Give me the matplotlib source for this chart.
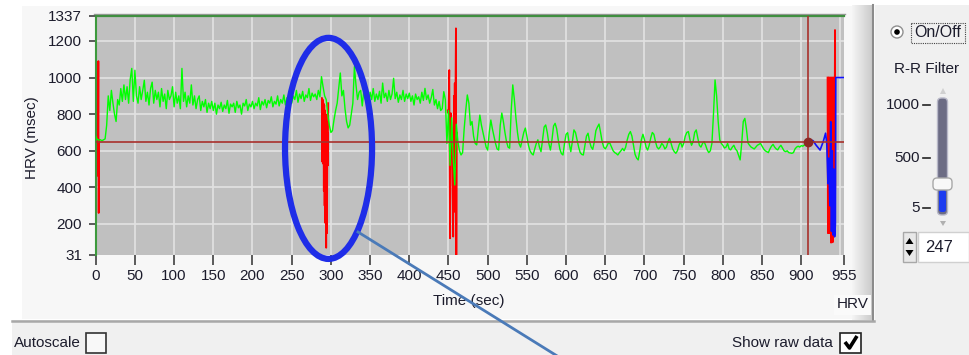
"""
HRV panel screenshot: R-R interval trace with raw-data bursts and filter controls.
"""

import numpy as np
import matplotlib.pyplot as plt
from matplotlib.patches import Rectangle, Ellipse, Circle, FancyBboxPatch, Polygon
from matplotlib.lines import Line2D

plt.rcParams['font.family'] = ['Liberation Sans', 'DejaVu Sans']

# --- data -----------------------------------------------------------------
x_ticks = [0, 50, 100, 150, 200, 250, 300, 350, 400, 450, 500, 550, 600,
           650, 700, 750, 800, 850, 900, 955]
x_grid = [50, 100, 150, 200, 250, 300, 350, 400, 450, 500, 550, 600,
          650, 700, 750, 800, 850, 900, 950]
y_ticks = [31, 200, 400, 600, 800, 1000, 1200, 1337]
y_grid = [200, 400, 600, 800, 1000, 1200]

# filtered HRV (msec), one value every 2 s from t=0 to t=908
green_dt = 2.0
green_v = (
    [680, 662, 658, 660, 655, 660, 665, 740, 900, 820, 930, 860, 800, 760, 880, 850, 940, 870, 960, 880] +
    [950, 860, 990, 1050, 870, 1040, 900, 860, 950, 880, 930, 985, 870, 920, 850, 940, 975, 860, 930, 880] +
    [920, 840, 940, 870, 910, 830, 930, 880, 900, 950, 840, 920, 860, 900, 830, 1050, 870, 920, 840, 900] +
    [860, 960, 850, 900, 830, 880, 900, 820, 870, 840, 880, 810, 860, 830, 870, 820, 860, 800, 850, 830] +
    [865, 815, 850, 830, 875, 805, 855, 840, 860, 810, 870, 835, 850, 800, 860, 845, 880, 820, 855, 840] +
    [870, 830, 860, 845, 890, 825, 870, 850, 880, 835, 875, 860, 895, 840, 870, 855, 900, 845, 880, 860] +
    [905, 850, 890, 870, 920, 860, 900, 880, 930, 865, 910, 885, 925, 870, 905, 890, 940, 875, 915, 895] +
    [910, 880, 930, 895, 1005, 950, 900, 880, 800, 740, 700, 710, 770, 820, 860, 940, 1025, 900, 930, 830] +
    [760, 725, 740, 800, 860, 1060, 960, 880, 920, 930, 845, 930, 880, 910, 860, 920, 880, 940, 870, 910] +
    [880, 925, 860, 970, 890, 915, 870, 930, 880, 910, 996, 885, 920, 865, 905, 880, 930, 870, 910, 885] +
    [915, 870, 900, 850, 910, 880, 895, 860, 920, 875, 941, 880, 905, 860, 890, 935, 850, 880, 830, 870] +
    [820, 830, 923, 880, 640, 820, 520, 780, 560, 413, 745, 650, 600, 577, 590, 720, 820, 905, 860, 740] +
    [760, 680, 640, 632, 720, 795, 740, 700, 660, 620, 604, 700, 768, 720, 680, 640, 610, 604, 740, 806] +
    [760, 700, 650, 620, 614, 820, 960, 880, 780, 700, 640, 620, 660, 700, 724, 680, 630, 600, 585, 577] +
    [610, 640, 660, 620, 595, 660, 730, 741, 700, 640, 604, 660, 735, 750, 720, 660, 610, 585, 577, 640] +
    [690, 699, 640, 595, 650, 714, 700, 660, 620, 590, 580, 577, 630, 680, 696, 650, 620, 608, 650, 710] +
    [730, 746, 700, 650, 620, 610, 625, 644, 640, 620, 600, 590, 585, 577, 590, 600, 613, 600, 620, 660] +
    [690, 705, 680, 630, 580, 560, 550, 600, 660, 690, 660, 620, 604, 630, 670, 700, 690, 650, 620, 610] +
    [620, 640, 630, 610, 620, 650, 668, 640, 610, 595, 586, 600, 630, 650, 620, 640, 680, 700, 705, 660] +
    [630, 650, 700, 714, 670, 630, 620, 640, 650, 630, 605, 590, 600, 640, 800, 987, 900, 760, 660, 640] +
    [630, 615, 620, 640, 610, 605, 620, 630, 610, 600, 575, 550, 640, 760, 777, 720, 643, 630, 620, 615] +
    [610, 620, 630, 635, 640, 625, 610, 600, 595, 590, 610, 625, 635, 620, 610, 605, 620, 630, 615, 600] +
    [595, 600, 590, 588, 586, 590, 610, 620, 625, 620, 628, 625, 632, 630, 650]
)

# live trace after the cursor (blue)
blue_t = [908, 911, 915, 919, 924, 928, 931, 932.5, 934, 935, 936.5, 937.5,
          938.5, 939.5, 940.5, 941.5, 942.5, 943.5, 944, 955]
blue_v = [650, 660, 655, 630, 604, 650, 696, 640, 420, 560, 300, 759,
          160, 600, 140, 500, 130, 200, 1000, 1000]

# raw-data bursts (red), where raw R-R differs from the filtered trace
raw_a_t = [0.6, 1.0, 1.4, 1.8, 2.2, 2.6, 3.0, 3.4, 3.8, 4.2, 4.6]
raw_a_v = [660, 460, 670, 480, 650, 470, 660, 1090, 260, 650, 660]
raw_b_t = [288.5, 289, 289.5, 290, 290.5, 291, 291.5, 292, 292.5, 293,
           293.5, 294, 294.5, 295, 295.5, 296, 296.5]
raw_b_v = [888, 540, 880, 530, 860, 380, 850, 300, 820, 205, 800, 70,
           760, 150, 700, 520, 860]
raw_c_t = [449, 450, 451, 452, 453, 454, 455, 456, 457, 457.5, 458, 458.5,
           459, 459.5, 460, 460.5, 461]
raw_c_v = [820, 805, 1041, 122, 805, 700, 560, 131, 900, 267, 969, 300,
           960, 1269, 31, 700, 650]
raw_d_t = [933.5, 934, 934.5, 935, 935.5, 936, 936.5, 937, 937.5, 938, 938.5,
           939, 939.5, 940, 940.5, 941, 941.5, 942, 942.5, 943, 943.3]
raw_d_v = [1000, 150, 1000, 160, 1000, 150, 1000, 200, 1000, 98, 1000,
           110, 1000, 100, 1000, 130, 1000, 180, 700, 1260, 400]

threshold = 650
cursor_t = 909

# --- figure and panel chrome (pixel coordinates) ----------------------------
W, H = 969, 355
fig = plt.figure(figsize=(W / 100, H / 100), dpi=100)
fig.patch.set_facecolor('white')

ui = fig.add_axes([0, 0, 1, 1])
ui.set_xlim(0, W)
ui.set_ylim(H, 0)
ui.axis('off')

txt = '#1c1c2c'

# chart panel, divider, right panel, bottom strip
ui.add_patch(Rectangle((22, 6), 830, 313, fc='#f7f7f7', ec='none'))
grad = np.linspace(0, 1, 40)
shade = np.stack([0.96 - 0.17 * grad] * 3, axis=-1)[None, :, :]
ui.imshow(shade, extent=[852, 873, 320, 5], aspect='auto', zorder=1)
ui.plot([873.5, 873.5], [5, 321], color='#8c8c8c', lw=1.5, zorder=2)
ui.add_patch(Rectangle((875, 5), 94, 350, fc='#f0f0f0', ec='none'))
ui.add_patch(Rectangle((12, 320), 863, 35, fc='#f0f0f0', ec='none'))
ui.plot([12, 874], [320.5, 320.5], color='#a8a8a8', lw=1.8, zorder=2)
ui.plot([94, 845], [13.8, 13.8], color='#9a9a9a', lw=1)

# axis titles
ui.text(32, 138, 'HRV (msec)', rotation=90, ha='center', va='center',
        fontsize=11, color=txt)
ui.text(469, 301, 'Time (sec)', ha='center', va='center', fontsize=11, color=txt)
ui.add_patch(Rectangle((834, 295), 37, 20, fc='#fafafa', ec='none', zorder=2))
ui.text(853, 304, 'HRV', ha='center', va='center', fontsize=11, color=txt, zorder=3)

# bottom check boxes
ui.text(14, 343, 'Autoscale', ha='left', va='center', fontsize=11, color=txt)
ui.add_patch(Rectangle((86.5, 332.5), 20, 20, fc='#f8f8f8', ec='#333333', lw=1.2))
ui.text(833, 343, 'Show raw data', ha='right', va='center', fontsize=11, color=txt)
ui.add_patch(Rectangle((840.5, 332.5), 21, 20, fc='white', ec='#222222', lw=1.2))
ui.plot([845, 849.5, 857], [342, 348, 336], color='black', lw=2.6,
        solid_capstyle='butt')

# right panel: radio, slider, numeric
ui.add_patch(Circle((897, 32), 6, fc='white', ec='#909090', lw=1))
ui.add_patch(Circle((897, 32), 2.8, fc='black', ec='none'))
ui.text(914, 32.5, 'On/Off', ha='left', va='center', fontsize=11.5, color=txt)
ui.add_patch(Rectangle((911.5, 22.5), 54, 20, fill=False, ec='#444444',
                       lw=0.8, ls=(0, (1, 1))))
ui.text(927, 69, 'R-R Filter', ha='center', va='center', fontsize=11, color=txt)

for lab, yy in [('1000', 105), ('500', 158), ('5', 208)]:
    ui.text(920, yy, lab, ha='right', va='center', fontsize=11, color=txt)
    ui.plot([923, 930], [yy, yy], color='#222222', lw=1.2)

ui.add_patch(Polygon([[940, 94], [946, 94], [943, 88]], closed=True,
                     fc='#d0d0d0', ec='none'))
ui.add_patch(FancyBboxPatch((937.5, 98), 10, 117,
                            boxstyle='round,pad=0,rounding_size=4',
                            fc='#6c6c84', ec='#b8b8c8', lw=1))
ui.add_patch(FancyBboxPatch((939, 190), 7, 22,
                            boxstyle='round,pad=0,rounding_size=2.5',
                            fc='#1d3cf0', ec='none'))
ui.add_patch(FancyBboxPatch((933, 178), 19, 12,
                            boxstyle='round,pad=0,rounding_size=4',
                            fc='#f8f8f8', ec='#a8a8a8', lw=1))
ui.add_patch(Polygon([[940, 221], [946, 221], [943, 226]], closed=True,
                     fc='#b0b0b0', ec='none'))

ui.add_patch(Rectangle((903, 232), 13, 30, fc='#e8e8e8', ec='#a8a8a8', lw=1))
ui.add_patch(Polygon([[905.5, 244], [913.5, 244], [909.5, 238]], closed=True,
                     fc='black', ec='none'))
ui.add_patch(Polygon([[905.5, 250], [913.5, 250], [909.5, 256]], closed=True,
                     fc='black', ec='none'))
ui.add_patch(Rectangle((918, 232), 51, 30, fc='white', ec='#d0d0d0', lw=1))
ui.text(925, 247.5, '247', ha='left', va='center', fontsize=12, color=txt)

# --- chart ----------------------------------------------------------------
left, right, top, bottom = 95.7, 844.4, 15.9, 254.9
ax = fig.add_axes([left / W, 1 - bottom / H, (right - left) / W, (bottom - top) / H])
ax.set_facecolor('#c0c0c0')
ax.set_xlim(0, 955)
ax.set_ylim(31, 1337)

for gx in x_grid:
    ax.axvline(gx, color='#e2e2e2', lw=1.2, zorder=0.5)
for gy in y_grid:
    ax.axhline(gy, color='#e2e2e2', lw=1.2, zorder=0.5)

for rt, rv in [(raw_a_t, raw_a_v), (raw_b_t, raw_b_v),
               (raw_c_t, raw_c_v), (raw_d_t, raw_d_v)]:
    ax.plot(rt, rv, color='#ff0000', lw=1.3, zorder=2)

green_t = np.arange(len(green_v)) * green_dt
ax.plot(green_t, green_v, color='#00ff00', lw=1.0, zorder=3)
ax.plot(blue_t, blue_v, color='#1010ff', lw=1.2, zorder=4)

ax.axhline(threshold, color='#a8302c', lw=1.2, zorder=5)
ax.axvline(cursor_t, color='#a8302c', lw=1.2, zorder=5)
ax.plot([cursor_t], [threshold], 'o', color='#8c2a26', ms=6, zorder=6)

ax.set_xticks(x_ticks)
ax.set_yticks(y_ticks)
ax.tick_params(direction='out', length=5, width=1.1, color='#303030',
               labelsize=11, labelcolor=txt)
ax.tick_params(axis='y', pad=4.8)
ax.tick_params(axis='x', length=7, pad=3)

for side in ['right', 'bottom']:
    ax.spines[side].set_visible(False)
ax.spines['top'].set_color('#3f8f3f')
ax.spines['top'].set_linewidth(1.6)
ax.spines['left'].set_color('#3c9a3c')
ax.spines['left'].set_linewidth(1.5)

# annotation: blue ellipse around the artefact and pointer line
ax.add_patch(Ellipse((297, 613), 111, 1208, fill=False, ec='#1f2de8',
                     lw=4.5, clip_on=False, zorder=10))
fig.add_artist(Line2D([358, 562], [232, 359], color='#4a7ab8', lw=2,
                      transform=ui.transData))

plt.savefig('out.png', dpi=100)
plt.close()
